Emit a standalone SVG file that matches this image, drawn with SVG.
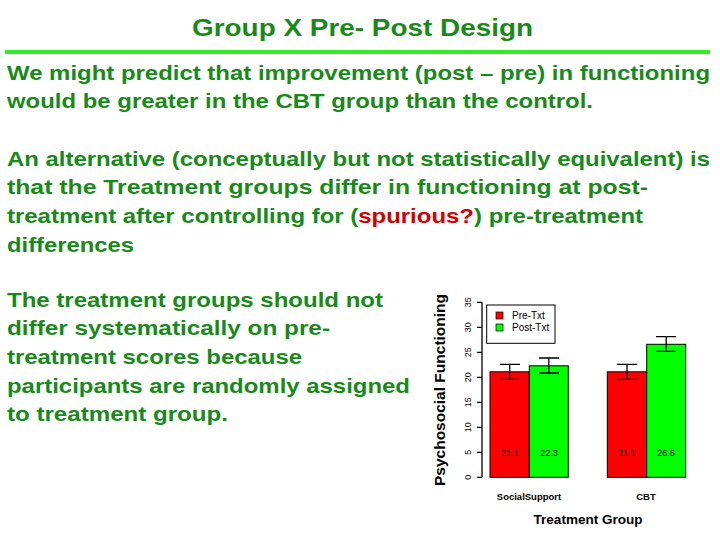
<svg xmlns="http://www.w3.org/2000/svg" width="720" height="540" viewBox="0 0 720 540">
<style>
.t{font-family:"Liberation Sans",Arial,sans-serif;font-weight:bold;font-size:21px;fill:#178a17}
.a{font-family:"Liberation Sans",Arial,sans-serif;font-size:9px;fill:#000}
.b{font-family:"Liberation Sans",Arial,sans-serif;font-weight:bold;fill:#000}
.e{stroke:#000;stroke-width:1.3;fill:none}
</style>
<rect width="720" height="540" fill="#fff"/>
<text x="192" y="36" class="b" style="font-size:24px;fill:#178a17" textLength="341" lengthAdjust="spacingAndGlyphs">Group X Pre- Post Design</text>
<rect x="5" y="50" width="705" height="4" fill="#33ee22"/>
<g id="text1"><text class="t" x="7" y="80" textLength="703" lengthAdjust="spacingAndGlyphs">We might predict that improvement (post – pre) in functioning</text>
<text class="t" x="7" y="108" textLength="586" lengthAdjust="spacingAndGlyphs">would be greater in the CBT group than the control.</text></g>
<g id="text2"><text class="t" x="7" y="166" textLength="703" lengthAdjust="spacingAndGlyphs">An alternative (conceptually but not statistically equivalent) is</text>
<text class="t" x="7" y="194" textLength="641" lengthAdjust="spacingAndGlyphs">that the Treatment groups differ in functioning at post-</text>
<text class="t" x="7" y="223" textLength="636" lengthAdjust="spacingAndGlyphs">treatment after controlling for (<tspan fill="#d40000">spurious?</tspan>) pre-treatment</text>
<text class="t" x="7" y="252" textLength="127" lengthAdjust="spacingAndGlyphs">differences</text></g>
<g id="text3"><text class="t" x="7" y="307" textLength="376" lengthAdjust="spacingAndGlyphs">The treatment groups should not</text>
<text class="t" x="7" y="335" textLength="323" lengthAdjust="spacingAndGlyphs">differ systematically on pre-</text>
<text class="t" x="7" y="364" textLength="295" lengthAdjust="spacingAndGlyphs">treatment scores because</text>
<text class="t" x="7" y="393" textLength="403" lengthAdjust="spacingAndGlyphs">participants are randomly assigned</text>
<text class="t" x="7" y="421" textLength="221" lengthAdjust="spacingAndGlyphs">to treatment group.</text></g>
<g id="chart">
<path class="e" d="M482 477.3V302.3M482 477.3h-5M482 452.3h-5M482 427.3h-5M482 402.3h-5M482 377.3h-5M482 352.3h-5M482 327.3h-5M482 302.3h-5"/>
<g class="a" text-anchor="middle">
<text transform="translate(471 477.3) rotate(-90)">0</text>
<text transform="translate(471 452.3) rotate(-90)">5</text>
<text transform="translate(471 427.3) rotate(-90)">10</text>
<text transform="translate(471 402.3) rotate(-90)">15</text>
<text transform="translate(471 377.3) rotate(-90)">20</text>
<text transform="translate(471 352.3) rotate(-90)">25</text>
<text transform="translate(471 327.3) rotate(-90)">30</text>
<text transform="translate(471 302.3) rotate(-90)">35</text>
</g>
<text class="b" style="font-size:15.5px" text-anchor="middle" transform="translate(445 390) rotate(-90)">Psychosocial Functioning</text>
<g stroke="#000" stroke-width="1">
<rect x="490" y="371.8" width="39.3" height="105.5" fill="#ff0000"/>
<rect x="529.3" y="365.8" width="39" height="111.5" fill="#00ff00"/>
<rect x="607.3" y="371.8" width="39.4" height="105.5" fill="#ff0000"/>
<rect x="646.7" y="344.3" width="39" height="133" fill="#00ff00"/>
</g>
<path class="e" d="M509.7 364.3v15M500 364.3h20M500 379.3h20M548.8 358v15M539 358h20M539 373h20M627 364.3v15M617 364.3h20M617 379.3h20M666.2 336.7v14.6M656 336.7h20M656 351.3h20"/>
<g class="a" text-anchor="middle">
<text x="510" y="456">21.1</text><text x="549" y="456">22.3</text>
<text x="627" y="456">21.1</text><text x="666" y="456">26.6</text>
</g>
<rect x="486.7" y="305" width="68.3" height="38.3" fill="#fff" stroke="#000"/>
<rect x="496" y="312" width="7" height="7" fill="#ff0000" stroke="#000" stroke-width="0.7"/>
<rect x="496" y="324" width="7" height="7" fill="#00ff00" stroke="#000" stroke-width="0.7"/>
<text class="a" x="512" y="319" style="font-size:10px">Pre-Txt</text>
<text class="a" x="512" y="331" style="font-size:10px">Post-Txt</text>
<text class="b" style="font-size:9.5px" x="529" y="500" text-anchor="middle">SocialSupport</text>
<text class="b" style="font-size:9.5px" x="646" y="500" text-anchor="middle">CBT</text>
<text class="b" style="font-size:13.5px" x="588" y="524" text-anchor="middle">Treatment Group</text>
</g>
</svg>
